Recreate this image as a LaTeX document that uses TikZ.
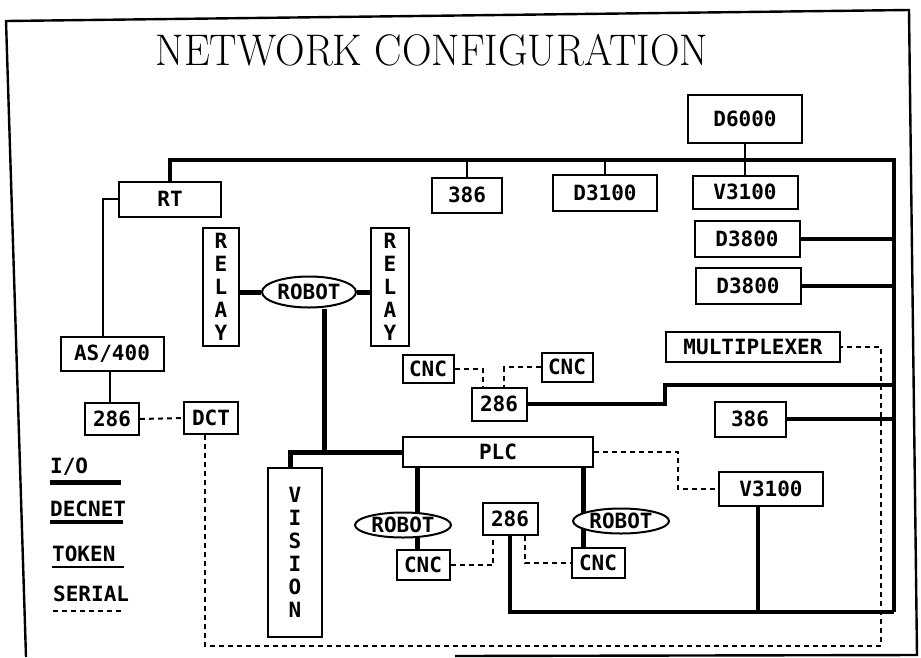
\documentclass[tikz,border=0pt]{standalone}
\usepackage{fontspec}
\usetikzlibrary{shapes.geometric,backgrounds}
\newfontfamily\labelfont{DejaVu Sans Mono}

\begin{document}
\begin{tikzpicture}[x=1pt,y=-1pt,
  box/.style={draw,line width=2pt,fill=white,inner sep=0pt,
    font=\labelfont\bfseries\fontsize{21}{23}\selectfont},
  robot/.style={box,ellipse,minimum width=96pt,minimum height=28pt},
  tall/.style={box,align=center},
  legend/.style={anchor=west,inner sep=0pt,font=\labelfont\bfseries\fontsize{21}{23}\selectfont},
  io/.style={line width=5pt},
  decnet/.style={line width=4pt},
  drop/.style={line width=2.6pt},
  token/.style={line width=1.8pt},
  serial/.style={line width=2pt,dash pattern=on 5pt off 4pt}]
  \useasboundingbox (0,0) rectangle (921,657);
  \draw[line width=2.4pt] (455,656) -- (917,655) -- (909,10) -- (6,21) -- (26,657);
  \node[font=\fontsize{41}{41}\selectfont] (title) at (432,50) {\scalebox{1}[1.08]{NETWORK CONFIGURATION}};

  \node[box,minimum width=114pt,minimum height=48pt] (d6000) at (745,119) {D6000};
  \node[box,minimum width=105pt,minimum height=33pt] (v3100a) at (745,192) {V3100};
  \node[box,minimum width=104pt,minimum height=36pt] (d3100) at (605,193) {D3100};
  \node[box,minimum width=70pt,minimum height=35pt] (c386a) at (467,195) {386};
  \node[box,minimum width=102pt,minimum height=35pt] (rt) at (170,199) {RT};
  \node[box,minimum width=105pt,minimum height=36pt] (d3800a) at (747,239) {D3800};
  \node[box,minimum width=105pt,minimum height=36pt] (d3800b) at (748,286) {D3800};
  \node[box,minimum width=103pt,minimum height=34pt] (as400) at (112,354) {AS/400};
  \node[box,minimum width=54pt,minimum height=32pt] (p286a) at (112,419) {286};
  \node[box,minimum width=54pt,minimum height=32pt] (dct) at (211,418) {DCT};
  \node[tall,minimum width=36pt,minimum height=118pt] (relayA) at (221,287) {R\\E\\L\\A\\Y};
  \node[tall,minimum width=38pt,minimum height=118pt] (relayB) at (390,287) {R\\E\\L\\A\\Y};
  \node[robot,minimum width=94pt,minimum height=31pt] (robotA) at (309,292) {ROBOT};
  \node[tall,minimum width=54pt,minimum height=169pt] (vision) at (295,552) {V\\I\\S\\I\\O\\N};
  \node[box,minimum width=51pt,minimum height=28pt] (cncA) at (428,369) {CNC};
  \node[box,minimum width=51pt,minimum height=29pt] (cncB) at (567,367) {CNC};
  \node[box,minimum width=55pt,minimum height=33pt] (p286b) at (499,404) {286};
  \node[box,minimum width=190pt,minimum height=30pt] (plc) at (498,452) {PLC};
  \node[box,minimum width=174pt,minimum height=30pt] (mux) at (753,347) {MULTIPLEXER};
  \node[box,minimum width=71pt,minimum height=35pt] (c386b) at (750,419) {386};
  \node[box,minimum width=104pt,minimum height=34pt] (v3100b) at (771,489) {V3100};
  \node[robot,minimum height=25pt] (robotB) at (403,525) {ROBOT};
  \node[box,minimum width=53pt,minimum height=30pt] (cncC) at (423,565) {CNC};
  \node[box,minimum width=55pt,minimum height=32pt] (p286c) at (510,519) {286};
  \node[robot,minimum height=25pt] (robotC) at (621,521) {ROBOT};
  \node[box,minimum width=53pt,minimum height=30pt] (cncD) at (598,563) {CNC};

  \coordinate (busR) at (894,160);
  \coordinate (busB) at (894,612);
  \coordinate (step) at (665,385);
  \coordinate (serB) at (881,646);

  \begin{scope}[on background layer]
    \draw[decnet] (rt.north) -- (rt.north |- busR) -- (busR) -- (busB);
    \draw[drop] (d6000.south) -- (v3100a.north);
    \draw[drop] (d3100.north) -- (d3100.north |- busR);
    \draw[drop] (c386a.north) -- (c386a.north |- busR);
    \draw[decnet] (d3800a.east) -- (d3800a.east -| busR);
    \draw[decnet] (d3800b.east) -- (d3800b.east -| busR);
    \draw[decnet] (p286b.east) -- (p286b.east -| step) -- (step) -- (step -| busR);
    \draw[decnet] (c386b.east) -- (c386b.east -| busR);
    \draw[decnet] (p286c.south) -- (p286c.south |- busB) -- (busB);
    \draw[decnet] ([xshift=-13pt]v3100b.south) -- ([xshift=-13pt]v3100b.south |- busB);

    \draw[token] (rt.west) -| ([xshift=-9pt]as400.north);
    \draw[token] ([xshift=-2pt]as400.south) -- ([xshift=-2pt]p286a.north);

    \draw[io] (relayA.east |- robotA.west) -- (robotA.west);
    \draw[io] (robotA.east) -- (robotA.east -| relayB.west);
    \draw[io] ([xshift=15pt]robotA.south) -- ([xshift=15pt]robotA.south |- plc.west);
    \draw[io] (plc.west) -| ([xshift=-5pt]vision.north);
    \draw[io] ([xshift=-81pt]plc.south) -- ([xshift=-81pt]plc.south |- cncC.north);
    \draw[io] ([xshift=85pt]plc.south) -- ([xshift=85pt]plc.south |- cncD.north);

    \draw[serial] (p286a.east) -- (dct.west);
    \draw[serial] ([xshift=-6pt]dct.south) -- ([xshift=-6pt]dct.south |- serB) -- (serB) -- (serB |- mux.east) -- (mux.east);
    \draw[serial] (cncA.east) -| ([xshift=-16pt]p286b.north);
    \draw[serial] (cncB.west) -| ([xshift=5pt]p286b.north);
    \draw[serial] (plc.east) -- ++(84,0) |- (v3100b.west);
    \draw[serial] (cncC.east) -| ([xshift=-17pt]p286c.south);
    \draw[serial] ([xshift=15pt]p286c.south) |- (cncD.west);
  \end{scope}

  \node[legend] (lio) at (50,467) {I/O};
  \draw[io] (50,482) -- (121,482);
  \node[legend] (ldecnet) at (50,509) {DECNET};
  \draw[decnet] (50,522) -- (123,522);
  \node[legend] (ltoken) at (52,554) {TOKEN};
  \draw[drop] (52,567) -- (124,567);
  \node[legend] (lserial) at (53,594) {SERIAL};
  \draw[serial] (53,611) -- (122,611);
\end{tikzpicture}
\end{document}
